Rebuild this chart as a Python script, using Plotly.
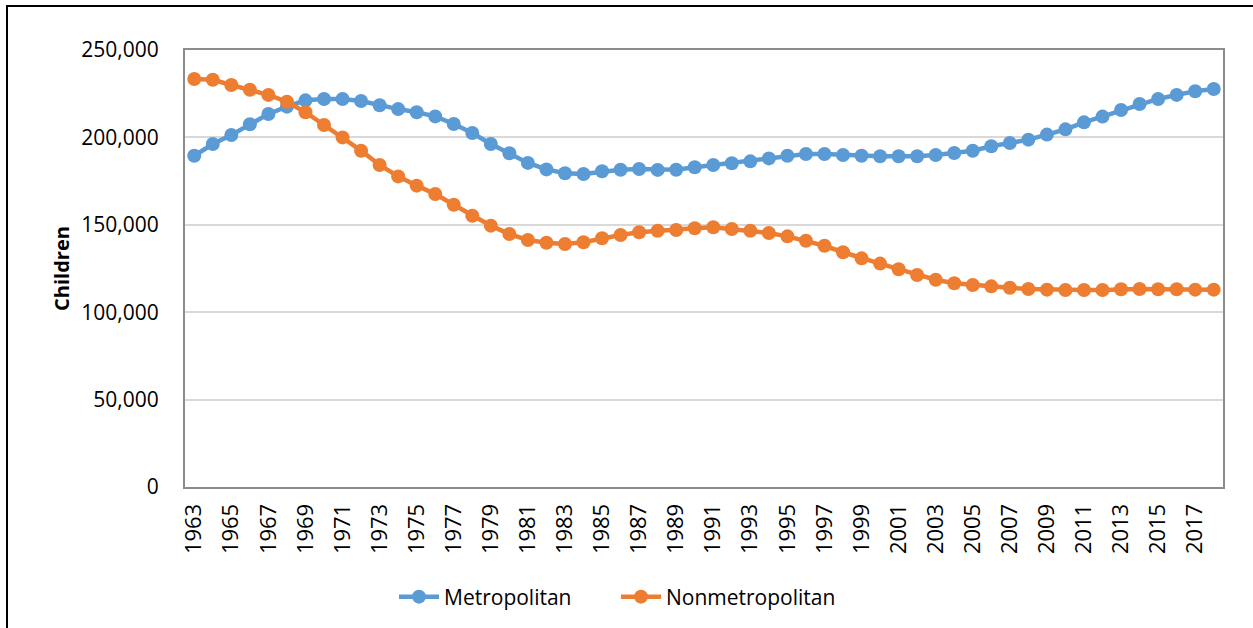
import plotly.graph_objects as go

years = list(range(1963, 2019))

metropolitan = [
    189500, 196200, 201400, 207500, 213400, 217600, 221200, 222000, 222000, 220800,
    218400, 216200, 214400, 212000, 207700, 202500, 196200, 190900, 185400, 181700,
    179500, 179100, 180600, 181500, 181900, 181400, 181500, 182900, 184200, 185200,
    186300, 188000, 189500, 190500, 190500, 189900, 189500, 189200, 189200, 189200,
    189900, 191100, 192400, 194900, 196800, 198700, 201600, 204600, 208600, 211900,
    215700, 219100, 222000, 224300, 226400, 227700,
]

nonmetropolitan = [
    233400, 233000, 230000, 227300, 224300, 220400, 214400, 207100, 200000, 192400,
    184200, 177700, 172400, 167600, 161500, 155200, 149500, 144700, 141300, 139700,
    139000, 140000, 142300, 144200, 145700, 146600, 147000, 148000, 148600, 147600,
    146600, 145300, 143400, 140900, 138000, 134300, 130800, 127800, 124600, 121300,
    118600, 116600, 115600, 114800, 114000, 113300, 112900, 112700, 112700, 112700,
    113100, 113300, 113100, 113100, 112900, 112900,
]

tick_years = years[::2]
y_ticks = [0, 50000, 100000, 150000, 200000, 250000]

BLUE = "#5B9BD5"
ORANGE = "#ED7D31"
FONT = "Open Sans"

fig = go.Figure()
fig.add_trace(go.Scatter(
    x=years, y=metropolitan, name="Metropolitan", mode="lines+markers",
    line=dict(color=BLUE, width=4.5), marker=dict(color=BLUE, size=14),
))
fig.add_trace(go.Scatter(
    x=years, y=nonmetropolitan, name="Nonmetropolitan", mode="lines+markers",
    line=dict(color=ORANGE, width=4.5), marker=dict(color=ORANGE, size=14),
))

L, R, T, B = 185, 30, 50, 140
W, H = 1253, 628
pw = W - L - R
ph = H - T - B

def px_x(p):
    return (p - L) / pw

def px_y(p):
    return (H - B - p) / ph

fig.update_layout(
    width=W, height=H,
    margin=dict(l=L, r=R, t=T, b=B),
    paper_bgcolor="white", plot_bgcolor="white",
    font=dict(family=FONT, size=21, color="#000000"),
    showlegend=True,
    legend=dict(
        orientation="h", x=px_x(394), xanchor="left", y=px_y(597), yanchor="middle",
        font=dict(family=FONT, size=21, color="#000000"),
        itemwidth=40, entrywidth=167, tracegroupgap=0,
    ),
    xaxis=dict(
        range=[1962.5, 2018.5], tickvals=tick_years, ticktext=[str(v) for v in tick_years],
        tickangle=-90, showgrid=False, zeroline=False,
        showline=True, linecolor="#8C8C8C", linewidth=2, mirror=True,
        ticks="", ticklabelstandoff=6,
        tickfont=dict(family=FONT, size=22, color="#000000"),
    ),
    yaxis=dict(
        range=[0, 250000], tickvals=y_ticks, tickformat=",",
        showgrid=True, gridcolor="#D9D9D9", gridwidth=2, zeroline=False,
        showline=True, linecolor="#8C8C8C", linewidth=2, mirror=True,
        ticks="", ticklabelstandoff=20,
        tickfont=dict(family=FONT, size=21, color="#000000"),
        title=dict(text="<b>Children</b>", standoff=6,
                   font=dict(family=FONT, size=20, color="#000000")),
    ),
    shapes=[dict(
        type="rect", xref="paper", yref="paper",
        x0=px_x(7), x1=px_x(1270), y0=px_y(645), y1=px_y(6),
        line=dict(color="#000000", width=2), fillcolor="rgba(0,0,0,0)", layer="above",
    )],
)

fig.write_html(
    "out.html",
    config={"displayModeBar": False},
    post_script="document.body.style.margin='0';document.body.style.padding='0';",
)
